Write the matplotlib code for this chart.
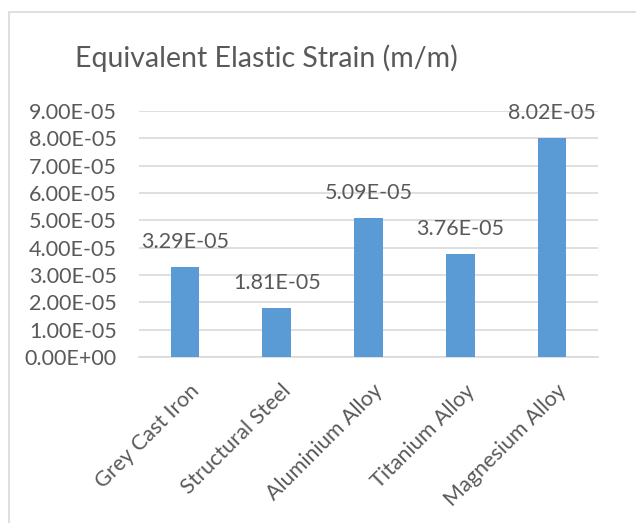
import matplotlib
matplotlib.use("Agg")
import matplotlib.pyplot as plt
from matplotlib.patches import Rectangle
from matplotlib.transforms import ScaledTranslation

# Equivalent elastic strain per material (m/m)
materials = ["Grey Cast Iron", "Structural Steel", "Aluminium Alloy", "Titanium Alloy", "Magnesium Alloy"]
strain = [3.29e-05, 1.81e-05, 5.09e-05, 3.76e-05, 8.02e-05]
y_ticks = [i * 1e-05 for i in range(10)]

text_col = "#595959"
grid_col = "#d9d9d9"
bar_col = "#5b9bd5"

plt.rcParams["font.family"] = ["Lato", "DejaVu Sans"]

W, H = 636, 523
fig = plt.figure(figsize=(W / 100, H / 100), dpi=100)

# chart border (runs off the right and bottom edges)
fig.patches.append(Rectangle((9 / W, -0.05), 1.2, 1 - 12 / H + 0.05, transform=fig.transFigure,
                             fill=False, edgecolor=grid_col, linewidth=1.2))

ax = fig.add_axes([139 / W, 1 - 357 / H, (598 - 139) / W, (357 - 111) / H])
x = range(len(materials))
ax.bar(x, strain, width=0.31, color=bar_col, zorder=3)
ax.set_xlim(-0.5, len(materials) - 0.5)
ax.set_ylim(0, 9e-05)
ax.set_yticks(y_ticks)
ax.set_yticklabels([f"{v:.2E}" for v in y_ticks])
ax.yaxis.grid(True, color=grid_col, linewidth=1.2, zorder=0)
ax.set_xticks(list(x))
ax.set_xticklabels(materials, rotation=45, ha="right", va="top", rotation_mode="anchor")
ax.tick_params(axis="both", length=0, labelsize=15.5, colors=text_col)
ax.tick_params(axis="y", pad=16)
ax.tick_params(axis="x", pad=17)
for lab in ax.get_xticklabels():
    lab.set_transform(lab.get_transform() + ScaledTranslation(4 / 100, 0, fig.dpi_scale_trans))
for s in ["top", "right", "left"]:
    ax.spines[s].set_visible(False)
ax.spines["bottom"].set_color(grid_col)
ax.spines["bottom"].set_linewidth(1.2)

for i, v in enumerate(strain):
    ax.annotate(f"{v:.2E}", (i, v), xytext=(0, 18), textcoords="offset points",
                ha="center", va="center", fontsize=15.5, color=text_col)

fig.text(266 / W, 1 - 67 / H, "Equivalent Elastic Strain (m/m)", ha="center", va="baseline",
         fontsize=20.5, color=text_col)

fig.savefig("out.png", dpi=100)
